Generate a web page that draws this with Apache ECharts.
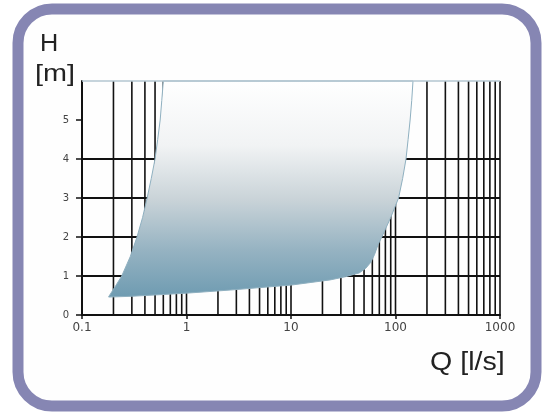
<!DOCTYPE html>
<html>
<head>
<meta charset="utf-8">
<script src="https://cdn.jsdelivr.net/npm/echarts@6/dist/echarts.min.js"></script>
<style>
html,body{margin:0;padding:0;background:#ffffff;}
#chart{width:542px;height:415px;}
</style>
</head>
<body>
<div id="chart"></div>
<script>
// Operating range envelope, boundary points [Q (l/s), H (m)], clockwise from bottom-left
var leftEdgeQ  = [0.18, 0.21, 0.24, 0.29, 0.336, 0.38, 0.42, 0.46, 0.50, 0.53, 0.56, 0.58, 0.60];
var leftEdgeH  = [0.47, 0.75, 1.0, 1.5, 2.0, 2.5, 3.0, 3.5, 4.0, 4.5, 5.0, 5.5, 6.0];
var rightEdgeQ = [147, 143, 138, 132, 126, 117, 107, 90, 74, 68, 63, 58, 52, 45];
var rightEdgeH = [6.0, 5.5, 5.0, 4.5, 4.0, 3.5, 3.0, 2.5, 2.0, 1.8, 1.55, 1.35, 1.2, 1.08];
var bottomEdgeQ = [33, 23.7, 10.2, 2.62, 1.0, 0.3, 0.18];
var bottomEdgeH = [0.98, 0.9, 0.77, 0.64, 0.56, 0.48, 0.46];

// Log grid lines (Q) and tick labels
var gridQ = [0.2,0.3,0.4,0.5,0.6,0.7,0.8,0.9,1,2,3,4,5,6,7,8,9,10,20,30,40,50,60,70,80,90,100,200,300,400,500,600,700,800,900,1000];
var xTickLabels = ['0.1','1','10','100','1000'];
var yTickValues = [0,1,2,3,4,5];

var envelope = [];
leftEdgeQ.forEach(function(q,i){ envelope.push([q, leftEdgeH[i]]); });
rightEdgeQ.forEach(function(q,i){ envelope.push([q, rightEdgeH[i]]); });
bottomEdgeQ.forEach(function(q,i){ envelope.push([q, bottomEdgeH[i]]); });

var chart = echarts.init(document.getElementById('chart'));
var font = 'Liberation Sans, Arial, sans-serif';
var tickFont = 'DejaVu Sans, Verdana, sans-serif';

chart.setOption({
  animation: false,
  graphic: [
    { type: 'rect', z: -10, silent: true,
      shape: { x: 18, y: 9, width: 518, height: 397, r: 34 },
      style: { fill: '#fefefe', stroke: '#8686b3', lineWidth: 11 } },
    { type: 'text', x: 40, y: 33, scaleX: 1.1, z: 10,
      style: { text: 'H', x: 0, y: 0, textAlign: 'left', textVerticalAlign: 'top', font: '23px ' + font, fill: '#222' } },
    { type: 'text', x: 35, y: 62, scaleX: 1.2, z: 10,
      style: { text: '[m]', x: 0, y: 0, textAlign: 'left', textVerticalAlign: 'top', font: '24px ' + font, fill: '#222' } },
    { type: 'text', x: 430, y: 350, scaleX: 1.1, z: 10,
      style: { text: 'Q [l/s]', x: 0, y: 0, textAlign: 'left', textVerticalAlign: 'top', font: '26px ' + font, fill: '#222' } }
  ],
  grid: { left: 82, right: 42, top: 81, bottom: 100, containLabel: false },
  xAxis: {
    type: 'log', logBase: 10, min: 0.1, max: 1000,
    axisLine: { show: true, lineStyle: { color: '#111', width: 2 } },
    axisTick: { show: true, length: 4, lineStyle: { color: '#111', width: 1.5 } },
    axisLabel: {
      color: '#444', fontSize: 12, fontFamily: tickFont, margin: 7,
      formatter: function (v) {
        var s = String(+v.toPrecision(6));
        return xTickLabels.indexOf(s) >= 0 ? s : '';
      }
    },
    splitLine: { show: false },
    minorTick: { show: false }
  },
  yAxis: {
    type: 'value', min: 0, max: 6, interval: 1,
    axisLine: { show: true, lineStyle: { color: '#111', width: 2 } },
    axisTick: { show: true, length: 6, customValues: yTickValues, lineStyle: { color: '#111', width: 1.5 } },
    axisLabel: { color: '#444', fontSize: 10, fontFamily: tickFont, margin: 13, customValues: yTickValues },
    splitLine: { show: true, showMinLine: false, showMaxLine: false, lineStyle: { color: '#111', width: 2 } }
  },
  series: [
    {
      type: 'custom', z: 1, silent: true,
      data: gridQ,
      encode: { x: 0 },
      renderItem: function (params, api) {
        var q = api.value(0);
        var p0 = api.coord([q, 0]);
        var p1 = api.coord([q, 6]);
        return { type: 'line', shape: { x1: p0[0], y1: p0[1], x2: p1[0], y2: p1[1] },
                 style: { stroke: '#111', lineWidth: 1.6 } };
      }
    },
    {
      type: 'custom', z: 3, silent: true,
      data: [0],
      renderItem: function (params, api) {
        var pts = envelope.map(function (d) { return api.coord(d); });
        return {
          type: 'polygon',
          shape: { points: pts },
          style: {
            fill: new echarts.graphic.LinearGradient(0, 0, 0, 1, [
              { offset: 0, color: '#ffffff' },
              { offset: 0.3, color: '#f1f3f4' },
              { offset: 0.55, color: '#c9d3d8' },
              { offset: 0.78, color: '#96b3c2' },
              { offset: 1, color: '#6e9bb1' }
            ]),
            stroke: '#8fb0c0', lineWidth: 1
          }
        };
      },
      markLine: {
        silent: true, symbol: 'none', label: { show: false },
        lineStyle: { color: '#b3c6d0', type: 'solid', width: 1.5 },
        data: [{ yAxis: 6 }]
      }
    }
  ]
});
</script>
</body>
</html>
